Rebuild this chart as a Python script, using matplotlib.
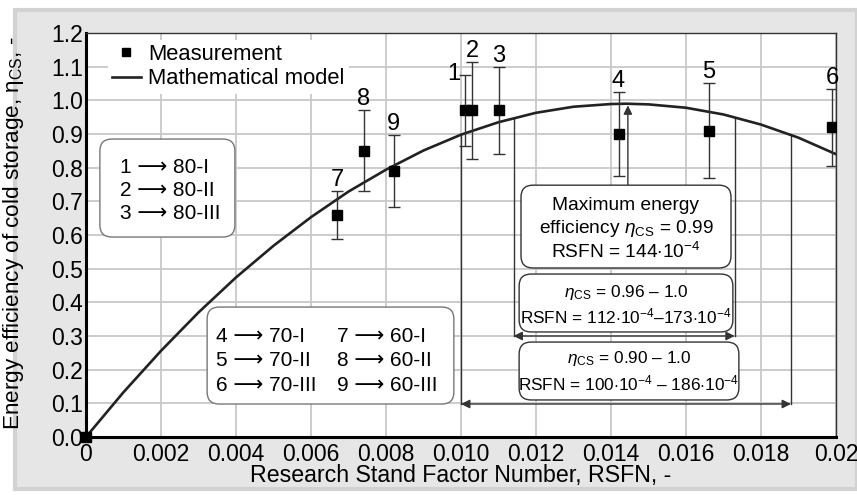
import matplotlib.pyplot as plt
import numpy as np
from matplotlib.patches import Rectangle, FancyBboxPatch
from matplotlib.lines import Line2D

# measurements (point id, RSFN, efficiency, half error bar)
meas_id = ['1', '2', '3', '4', '5', '6', '7', '8', '9']
meas_x = [0.0101, 0.0103, 0.0110, 0.0142, 0.0166, 0.0199, 0.0067, 0.0074, 0.0082]
meas_y = [0.97, 0.97, 0.97, 0.90, 0.91, 0.92, 0.66, 0.85, 0.79]
meas_err = [0.105, 0.145, 0.13, 0.125, 0.14, 0.115, 0.072, 0.12, 0.108]
origin_x = [0.0]
origin_y = [0.0]

# mathematical model
model_x = [0.0, 0.001, 0.002, 0.003, 0.004, 0.005, 0.006, 0.007, 0.008, 0.009,
           0.010, 0.011, 0.012, 0.013, 0.014, 0.0144, 0.015, 0.016, 0.017,
           0.018, 0.019, 0.020]
model_y = [0.000, 0.133, 0.256, 0.370, 0.474, 0.568, 0.653, 0.729, 0.794, 0.851,
           0.898, 0.935, 0.963, 0.981, 0.989, 0.990, 0.988, 0.978, 0.958,
           0.928, 0.889, 0.840]

# ranges marked with arrows
range_lo = [0.0114, 0.0100]
range_hi = [0.0173, 0.0188]
range_y = [0.30, 0.098]
max_x = 0.01445
max_y = 0.985

xtick_vals = [0, 0.002, 0.004, 0.006, 0.008, 0.010, 0.012, 0.014, 0.016, 0.018, 0.020]
xtick_labels = ['0', '0.002', '0.004', '0.006', '0.008', '0.010', '0.012',
                '0.014', '0.016', '0.018', '0.02']
ytick_vals = np.round(np.arange(0, 1.21, 0.1), 1)

plt.rcParams['font.family'] = ['Liberation Sans', 'DejaVu Sans']
plt.rcParams['mathtext.fontset'] = 'custom'
plt.rcParams['mathtext.rm'] = 'Liberation Sans'
plt.rcParams['mathtext.it'] = 'Liberation Sans:italic'
plt.rcParams['mathtext.bf'] = 'Liberation Sans:bold'

fig = plt.figure(figsize=(8.57, 4.95), dpi=100, facecolor='white')
fig.patches.append(Rectangle((15 / 857, 6 / 495), 842 / 857, 479 / 495,
                             transform=fig.transFigure, facecolor='#e6e6e6',
                             edgecolor='#d2d2d2', lw=3, zorder=-10))
ax = fig.add_axes([86 / 857, 58 / 495, 750 / 857, 404 / 495])
ax.set_facecolor('white')

ax.set_xlim(0, 0.02)
ax.set_ylim(0, 1.2)
ax.set_xticks(xtick_vals)
ax.set_xticklabels(xtick_labels)
ax.set_yticks(ytick_vals)
ax.set_yticklabels(['{:.1f}'.format(v) for v in ytick_vals])
ax.tick_params(length=0, labelsize=16.5)
ax.tick_params(axis='x', pad=4)
ax.tick_params(axis='y', pad=2)
ax.grid(color='#c8c8c8', lw=1.3)
ax.set_axisbelow(True)
for side in ['left', 'bottom']:
    ax.spines[side].set_linewidth(2.2)
for side in ['top', 'right']:
    ax.spines[side].set_linewidth(1.0)
    ax.spines[side].set_color('#333333')

ax.set_xlabel('Research Stand Factor Number, RSFN, -', fontsize=16.7)
ax.xaxis.set_label_coords(0.5, -0.066)
ax.set_ylabel('Energy efficiency of cold storage, η$_{\\rm CS}$, -', fontsize=16.2)
ax.yaxis.set_label_coords(-0.08, 0.505)

# model curve
ax.plot(model_x, model_y, color='#222222', lw=1.9, zorder=3)

# measurements with error bars
ax.errorbar(meas_x, meas_y, yerr=meas_err, fmt='s', color='black', ms=6.5,
            ecolor='#333333', elinewidth=1, capsize=4.5, capthick=1, zorder=4)
ax.plot(origin_x, origin_y, 's', color='black', ms=7, clip_on=False, zorder=6)
for i, lab in enumerate(meas_id):
    top = meas_y[i] + meas_err[i]
    if lab == '1':
        ax.annotate(lab, (meas_x[i], top), xytext=(-8, 1), textcoords='offset points',
                    ha='center', va='center', fontsize=17)
    else:
        ax.annotate(lab, (meas_x[i], top), xytext=(0, 0), textcoords='offset points',
                    ha='center', va='bottom', fontsize=17)

# legend
handles = [Line2D([], [], marker='s', color='black', ls='none', ms=6),
           Line2D([], [], color='#222222', lw=1.9)]
leg = ax.legend(handles, ['Measurement', 'Mathematical model'], loc='upper left',
                bbox_to_anchor=(0.02, 1.0),
                fontsize=15.8, frameon=True, facecolor='white', edgecolor='none',
                framealpha=1, fancybox=False, handlelength=1.3, handletextpad=0.35,
                labelspacing=0.15, borderpad=0.2, borderaxespad=0.3)
leg.set_zorder(5)

# guide lines and arrows
arrow_col = '#333333'
for lo, hi, y in zip(range_lo, range_hi, range_y):
    for xv in (lo, hi):
        ax.plot([xv, xv], [y, np.interp(xv, model_x, model_y)], color=arrow_col,
                lw=1, zorder=2)
    ax.annotate('', xy=(hi, y), xytext=(lo, y),
                arrowprops=dict(arrowstyle='<|-|>', color=arrow_col, lw=1,
                                mutation_scale=13, shrinkA=0, shrinkB=0), zorder=2)
ax.annotate('', xy=(max_x, max_y), xytext=(max_x, 0.748),
            arrowprops=dict(arrowstyle='-|>', color=arrow_col, lw=1,
                            mutation_scale=13, shrinkA=0, shrinkB=0), zorder=2)

# rounded boxes, aspect keeps corners round in pixels
aspect = (1.2 / 404) / (0.02 / 750)


def rbox(x0, x1, y0, y1, ec='#555555'):
    p = FancyBboxPatch((x0, y0), x1 - x0, y1 - y0,
                       boxstyle='round,pad=0,rounding_size=0.00032',
                       mutation_aspect=aspect, facecolor='white', edgecolor=ec,
                       lw=1.0, zorder=5)
    ax.add_patch(p)


rbox(0.00037, 0.00397, 0.594, 0.885, ec='#777777')
ax.text(0.0009, 0.733, '1 ⟶ 80-I\n2 ⟶ 80-II\n3 ⟶ 80-III', ha='left', va='center',
        fontsize=15, linespacing=1.26, zorder=6)

rbox(0.00323, 0.00981, 0.098, 0.386, ec='#777777')
ax.text(0.00347, 0.226, '4 ⟶ 70-I\n5 ⟶ 70-II\n6 ⟶ 70-III', ha='left', va='center',
        fontsize=15, linespacing=1.34, zorder=6)
ax.text(0.00669, 0.226, '7 ⟶ 60-I\n8 ⟶ 60-II\n9 ⟶ 60-III', ha='left', va='center',
        fontsize=15, linespacing=1.34, zorder=6)

rbox(0.0116, 0.0172, 0.502, 0.748, ec='#333333')
ax.text(0.0144, 0.689, 'Maximum energy', ha='center', va='center', fontsize=13.8, zorder=6)
ax.text(0.0144, 0.620, 'efficiency $\\eta_{\\rm CS}$ = 0.99', ha='center', va='center',
        fontsize=13.8, zorder=6)
ax.text(0.0144, 0.551, 'RSFN = 144$\\cdot$10$^{-4}$', ha='center', va='center',
        fontsize=13.8, zorder=6)

rbox(0.01155, 0.01725, 0.312, 0.484, ec='#333333')
ax.text(0.0144, 0.428, '$\\eta_{\\rm CS}$ = 0.96 – 1.0', ha='center', va='center',
        fontsize=12.4, zorder=6)
ax.text(0.0144, 0.359, 'RSFN = 112$\\cdot$10$^{-4}$–173$\\cdot$10$^{-4}$', ha='center',
        va='center', fontsize=12.4, zorder=6)

rbox(0.01155, 0.01741, 0.110, 0.282, ec='#333333')
ax.text(0.01448, 0.232, '$\\eta_{\\rm CS}$ = 0.90 – 1.0', ha='center', va='center',
        fontsize=12.4, zorder=6)
ax.text(0.01448, 0.160, 'RSFN = 100$\\cdot$10$^{-4}$ – 186$\\cdot$10$^{-4}$', ha='center',
        va='center', fontsize=12.4, zorder=6)

fig.savefig('out.png', dpi=100, facecolor=fig.get_facecolor())
